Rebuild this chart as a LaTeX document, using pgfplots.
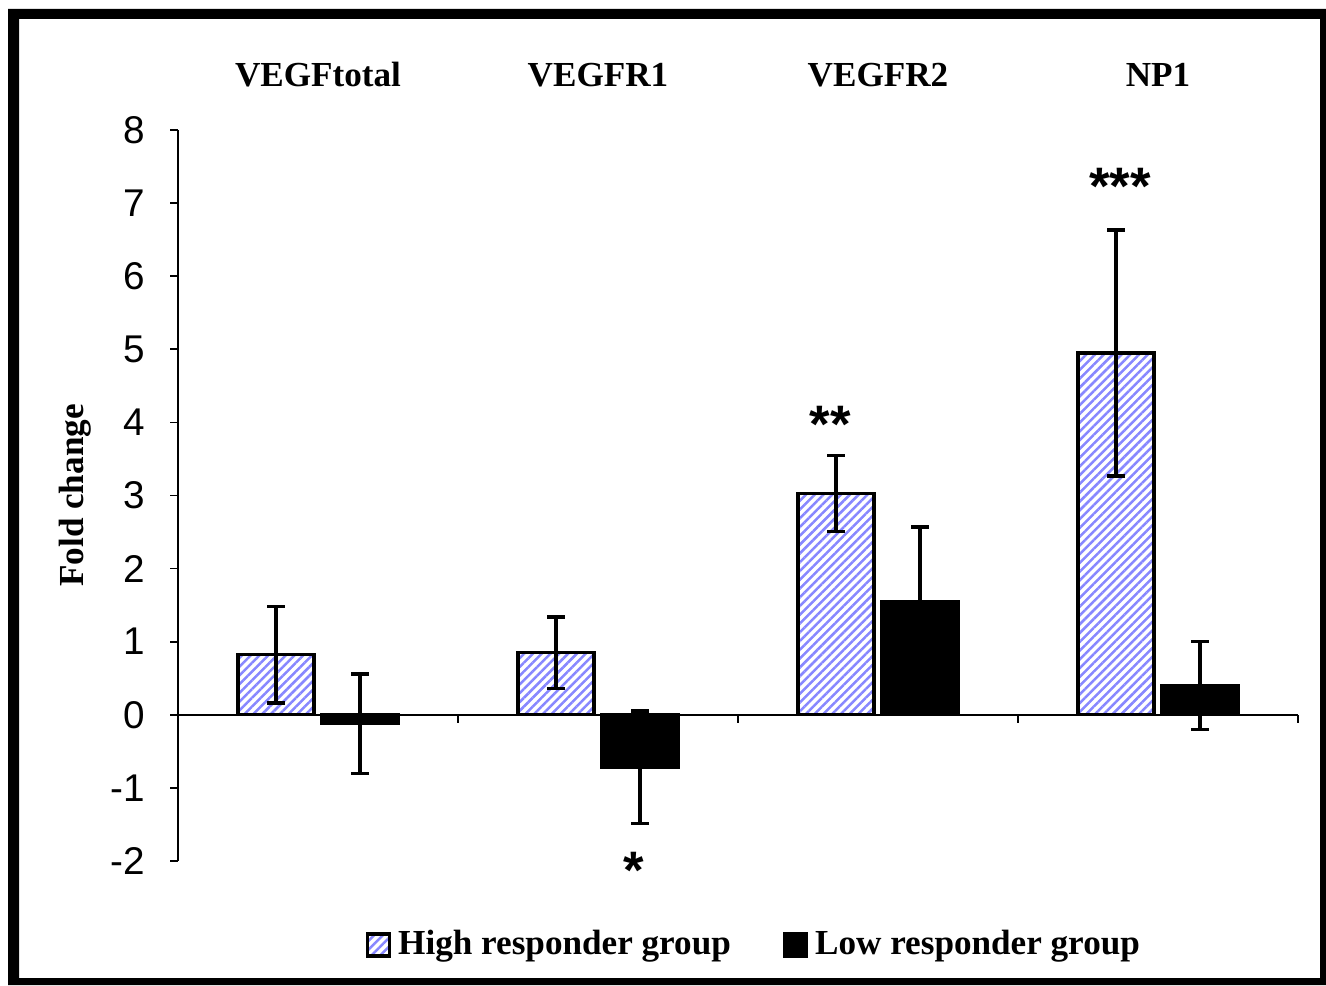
\documentclass[border=0pt]{standalone}
\usepackage{fontspec}
\setmainfont{Liberation Serif}
\setsansfont{Liberation Sans}
\usepackage{pgfplots}
\pgfplotsset{compat=1.18}
\usetikzlibrary{patterns.meta}
\definecolor{hatch}{RGB}{135,135,255}
\begin{document}
\begin{tikzpicture}[x=1mm,y=1mm]
\useasboundingbox (0,0) rectangle (132.6,98.5);
\fill[white] (0,0) rectangle (132.6,98.5);
\fill[black,even odd rule] (0.8,0) rectangle (132.6,97.6) (1.9,0.7) rectangle (132.0,96.6);
\begin{axis}[
  at={(17.8mm,12.4mm)}, anchor=south west,
  scale only axis, width=112mm, height=73.1mm,
  xmin=-0.5, xmax=3.5, ymin=-2, ymax=8,
  ybar=0.8mm, bar width=7.6mm,
  axis y line=left, axis x line=middle,
  axis line style={-, line width=0.5pt},
  xtick={0.5,1.5,2.5,3.5}, xticklabels={},
  ytick={-2,-1,0,1,2,3,4,5,6,7,8},
  tick align=outside, major tick length=0.8mm,
  tick style={black, line width=0.5pt},
  yticklabel style={font=\sffamily\fontsize{11}{13}\selectfont, xshift=-1.3mm},
  /pgf/number format/assume math mode=true,
  ylabel={Fold change},
  every axis y label/.style={at={(axis description cs:-0.092,0.5)}, rotate=90, anchor=center, font=\bfseries\fontsize{10}{12}\selectfont},
  clip=false,
  legend columns=2,
  legend style={at={(0.5165,-0.115)}, anchor=center, draw=none, fill=none, font=\bfseries\fontsize{10}{12}\selectfont, /tikz/every even column/.append style={column sep=4.5mm}},
  legend image code/.code={\draw[#1] (0mm,-1.1mm) rectangle (2.2mm,1.1mm);},
  error bars/y dir=both, error bars/y explicit,
  error bars/error bar style={line width=1pt, black, solid},
  error bars/error mark options={rotate=90, mark size=0.9mm, line width=1pt, black, solid},
]
\addplot[draw=black, line width=0.9pt,
  pattern={Lines[angle=45,distance=0.62mm,line width=0.25mm]}, pattern color=hatch]
  coordinates {(0,0.82) +- (0,0.66) (1,0.85) +- (0,0.49) (2,3.03) +- (0,0.52) (3,4.95) +- (0,1.68)};
\addplot[draw=black, fill=black, line width=0.9pt]
  coordinates {(0,-0.12) +- (0,0.68) (1,-0.72) +- (0,0.77) (2,1.55) +- (0,1.02) (3,0.40) +- (0,0.60)};
\legend{High responder group, Low responder group}
\node[font=\bfseries\fontsize{10}{12}\selectfont, yshift=5.5mm] at (axis cs:0,8) {VEGFtotal};
\node[font=\bfseries\fontsize{10}{12}\selectfont, yshift=5.5mm] at (axis cs:1,8) {VEGFR1};
\node[font=\bfseries\fontsize{10}{12}\selectfont, yshift=5.5mm] at (axis cs:2,8) {VEGFR2};
\node[font=\bfseries\fontsize{10}{12}\selectfont, yshift=5.5mm] at (axis cs:3,8) {NP1};
\node[font=\sffamily\bfseries\fontsize{15}{15}\selectfont, anchor=base] at (axis cs:1.129,-2.38) {*};
\node[font=\sffamily\bfseries\fontsize{15}{15}\selectfont, anchor=base] at (axis cs:1.829,3.72) {**};
\node[font=\sffamily\bfseries\fontsize{15}{15}\selectfont, anchor=base] at (axis cs:2.864,6.98) {***};
\end{axis}
\end{tikzpicture}
\end{document}
